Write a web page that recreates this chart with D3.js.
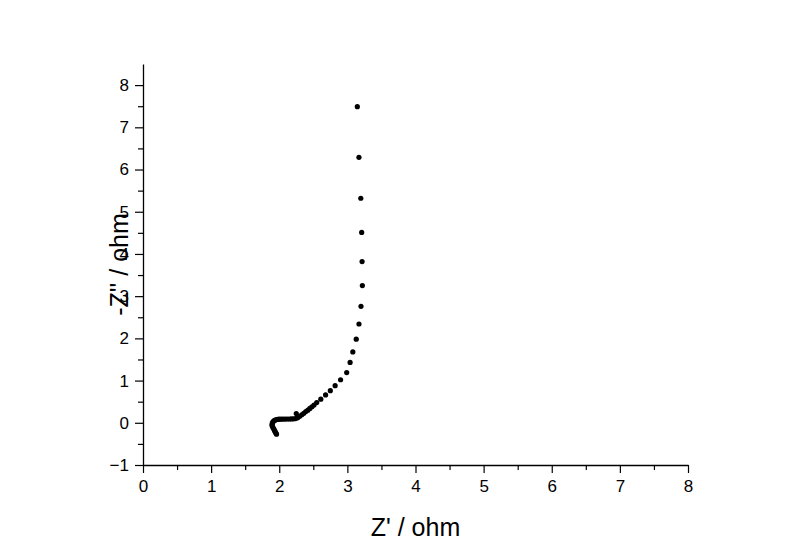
<!DOCTYPE html>
<html>
<head>
<meta charset="utf-8">
<script src="https://cdn.jsdelivr.net/npm/d3@7"></script>
<style>
    body { margin: 0; background: #fff; }
    svg { display: block; }
    .axis-title { font-family: Arial, "Liberation Sans", sans-serif; font-size: 25px; fill: #000; }
</style>
</head>
<body>
<div id="chart"></div>
<script>
// Nyquist data, Z' (ohm) and -Z'' (ohm)
const zReal = [1.96, 1.95, 1.94, 1.93, 1.92, 1.91, 1.90, 1.895, 1.895, 1.90,
    1.91, 1.925, 1.94, 1.96, 1.98, 2.00, 2.03, 2.06, 2.09, 2.12,
    2.15, 2.18, 2.21, 2.24, 2.25, 2.27, 2.30, 2.33, 2.36, 2.39,
    2.42, 2.45, 2.48, 2.51, 2.55, 2.61, 2.68, 2.75, 2.82, 2.90,
    2.99, 3.04, 3.08, 3.13, 3.17, 3.20, 3.22, 3.216, 3.21, 3.197,
    3.17, 3.146];
const zImag = [-0.27, -0.24, -0.21, -0.18, -0.15, -0.12, -0.09, -0.06, -0.03, 0.00,
    0.03, 0.05, 0.065, 0.075, 0.08, 0.085, 0.085, 0.088, 0.088, 0.09,
    0.09, 0.092, 0.095, 0.10, 0.22, 0.12, 0.155, 0.19, 0.225, 0.265,
    0.30, 0.34, 0.38, 0.42, 0.48, 0.56, 0.66, 0.76, 0.88, 1.02,
    1.19, 1.43, 1.68, 1.98, 2.34, 2.76, 3.25, 3.82, 4.51, 5.32,
    6.29, 7.49];

const xTicks = [0, 1, 2, 3, 4, 5, 6, 7, 8];
const yTicks = [-1, 0, 1, 2, 3, 4, 5, 6, 7, 8];
const xTitle = "Z' / ohm";
const yTitle = "-Z'' / ohm";

const width = 800, height = 558;
const margin = { top: 64, right: 112, bottom: 93, left: 143 };

const svg = d3.select('#chart').append('svg')
    .attr('width', width)
    .attr('height', height);

const x = d3.scaleLinear().domain([0, 8]).range([margin.left, width - margin.right]);
const y = d3.scaleLinear().domain([-1, 8.5]).range([height - margin.bottom, margin.top]);

const minorX = d3.range(0.5, 8, 1);
const minorY = d3.range(-0.5, 8.5, 1);

function styleLabels(g) {
    g.attr('font-size', 17).attr('font-family', 'Arial, "Liberation Sans", sans-serif');
    g.selectAll('.tick text')
        .style('font-size', '17px')
        .style('font-family', 'Arial, "Liberation Sans", sans-serif')
        .attr('fill', '#000');
}

// x axis: major and minor ticks
svg.append('g')
    .attr('transform', `translate(0,${y(-1)})`)
    .call(d3.axisBottom(x).tickValues(minorX).tickSize(5).tickFormat('').tickSizeOuter(0))
    .call(g => g.select('.domain').remove());
svg.append('g')
    .attr('transform', `translate(0,${y(-1)})`)
    .call(d3.axisBottom(x).tickValues(xTicks).tickSize(8).tickPadding(7).tickSizeOuter(0).tickFormat(d3.format('d')))
    .call(styleLabels)
    .call(g => g.select('.domain').attr('stroke-width', 1.3));

// y axis
svg.append('g')
    .attr('transform', `translate(${x(0)},0)`)
    .call(d3.axisLeft(y).tickValues(minorY).tickSize(5).tickFormat('').tickSizeOuter(0))
    .call(g => g.select('.domain').remove());
svg.append('g')
    .attr('transform', `translate(${x(0)},0)`)
    .call(d3.axisLeft(y).tickValues(yTicks).tickSize(8).tickPadding(6).tickSizeOuter(0).tickFormat(d3.format('d')))
    .call(styleLabels)
    .call(g => g.select('.domain').attr('stroke-width', 1.3));

svg.selectAll('.tick line').attr('stroke', '#000').attr('stroke-width', 1.2);

// axis titles
svg.append('text')
    .attr('class', 'axis-title')
    .attr('x', (x(0) + x(8)) / 2)
    .attr('y', 536)
    .attr('text-anchor', 'middle')
    .text(xTitle);

svg.append('text')
    .attr('class', 'axis-title')
    .attr('transform', `translate(128,${(y(-1) + y(8.5)) / 2}) rotate(-90)`)
    .attr('text-anchor', 'middle')
    .text(yTitle);

// data points
svg.append('g')
    .selectAll('circle')
    .data(zReal.map((d, i) => [d, zImag[i]]))
    .enter().append('circle')
    .attr('cx', d => x(d[0]))
    .attr('cy', d => y(d[1]))
    .attr('r', 2.6)
    .attr('fill', '#000');
</script>
</body>
</html>
